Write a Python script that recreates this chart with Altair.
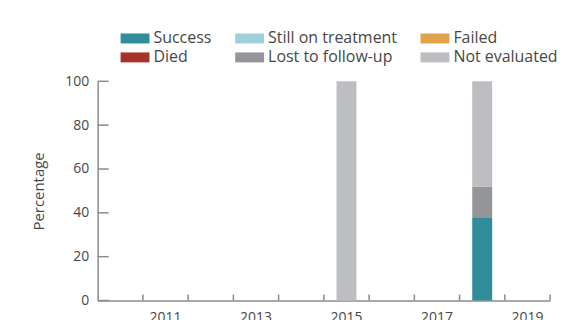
import altair as alt
import pandas as pd

years = [2010, 2011, 2012, 2013, 2014, 2015, 2016, 2017, 2018, 2019]
outcomes = ["Success", "Still on treatment", "Failed", "Died", "Lost to follow-up", "Not evaluated"]
colors = ["#318c9c", "#9dcfdc", "#e0a24b", "#a8312a", "#939598", "#bdbec1"]

success      = [0, 0, 0, 0, 0, 0, 0, 0, 38, 0]
still_on     = [0, 0, 0, 0, 0, 0, 0, 0, 0, 0]
failed       = [0, 0, 0, 0, 0, 0, 0, 0, 0, 0]
died         = [0, 0, 0, 0, 0, 0, 0, 0, 0, 0]
lost         = [0, 0, 0, 0, 0, 0, 0, 0, 14, 0]
not_eval     = [0, 0, 0, 0, 0, 100, 0, 0, 48, 0]

y_ticks = [0, 20, 40, 60, 80, 100]
x_labels = [2011, 2013, 2015, 2017, 2019]

series = [success, still_on, failed, died, lost, not_eval]
rows = []
for oi, (name, vals) in enumerate(zip(outcomes, series)):
    for y, v in zip(years, vals):
        rows.append({"year": y, "outcome": name, "value": v, "ord": oi})
df = pd.DataFrame(rows)

FONT = "Open Sans"
W, H = 454, 220
AX = "#8c8c8c"
TXT = "#474747"

xscale = alt.Scale(type="band", domain=years, paddingInner=0, paddingOuter=0)

bars = alt.Chart(df).mark_bar(size=20).encode(
    x=alt.X("year:O", scale=xscale,
            axis=alt.Axis(values=x_labels, ticks=False, title=None, labelAngle=0,
                          domainColor=AX, domainWidth=1.5, labelColor=TXT,
                          labelFontSize=14, labelFont=FONT, labelPadding=10)),
    y=alt.Y("value:Q", stack="zero", scale=alt.Scale(domain=[0, 100], nice=False),
            axis=alt.Axis(values=y_ticks, ticks=False, grid=False, title="Percentage",
                          domainColor=AX, domainWidth=1.5, labelColor=TXT,
                          labelFontSize=14, labelFont=FONT, labelPadding=9,
                          titleFont=FONT, titleFontSize=15, titleFontWeight="normal",
                          titleColor=TXT, titlePadding=18)),
    color=alt.Color("outcome:N", scale=alt.Scale(domain=outcomes, range=colors),
                    legend=alt.Legend(title=None, orient="none", legendX=23, legendY=-53,
                                      columns=3, direction="horizontal",
                                      symbolType="M-1,-0.5H1.9V0.5H-1Z", symbolSize=400,
                                      symbolStrokeWidth=0, labelFont=FONT, labelFontSize=16,
                                      labelColor=TXT, labelOffset=13, columnPadding=23,
                                      rowPadding=1)),
    order=alt.Order("ord:Q"),
)

ytick_df = pd.DataFrame({"v": y_ticks})
yticks = alt.Chart(ytick_df).mark_rule(color=AX, strokeWidth=1.5).encode(
    y=alt.Y("v:Q"), x=alt.value(0), x2=alt.value(11)
)

xtick_df = pd.DataFrame({"year": years})
xticks = alt.Chart(xtick_df).mark_rule(color=AX, strokeWidth=1.5).encode(
    x=alt.X("year:O", scale=xscale, bandPosition=1),
    y=alt.value(H), y2=alt.value(H - 6)
)

chart = alt.layer(bars, yticks, xticks).properties(
    width=W, height=H, padding={"left": 23, "top": 20, "right": 5, "bottom": 5}
).configure_view(stroke=None)

chart.save("out.html", embed_options={"renderer": "svg", "actions": False})
